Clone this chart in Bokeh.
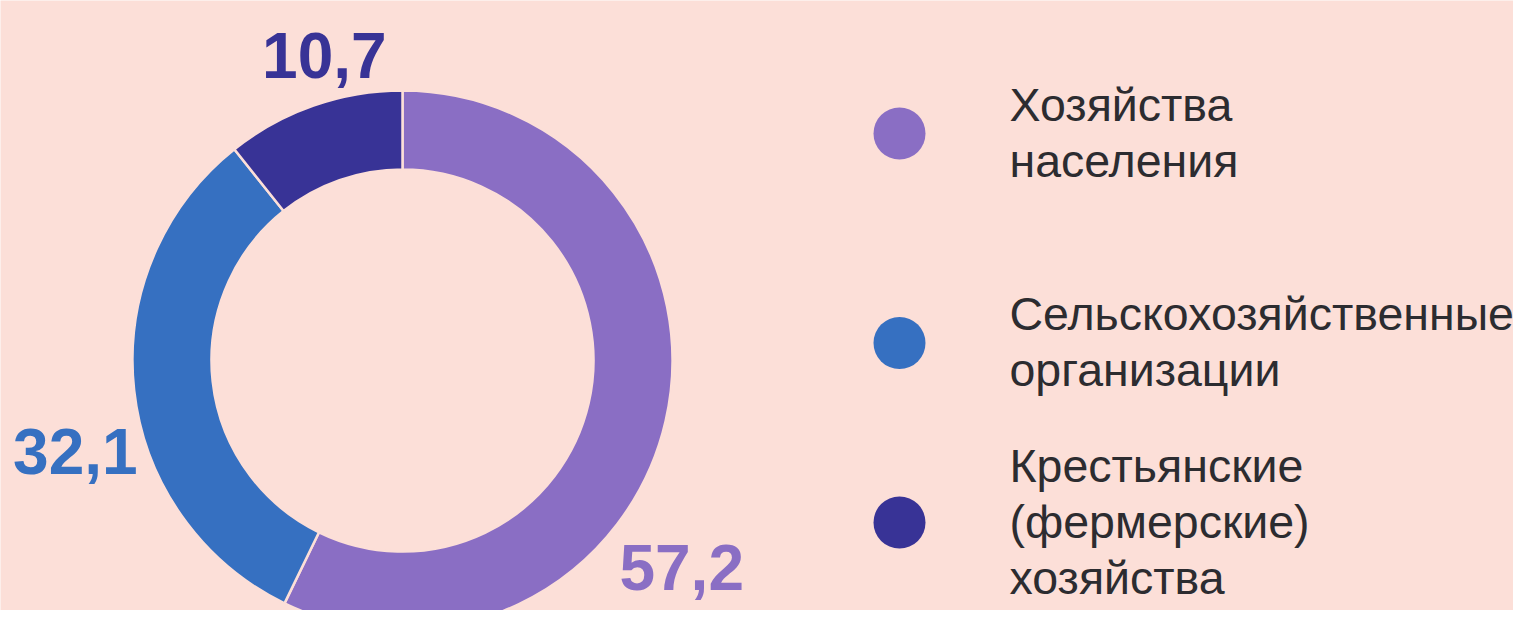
import math
from bokeh.plotting import figure
from bokeh.models import Range1d, ColumnDataSource
from bokeh.core.properties import value
from bokeh.embed import file_html
from bokeh.resources import INLINE

# ---- data ----
categories = ["Хозяйства\nнаселения",
              "Сельскохозяйственные\nорганизации",
              "Крестьянские\n(фермерские)\nхозяйства"]
shares = [57.2, 32.1, 10.7]
share_labels = ["57,2", "32,1", "10,7"]
colors = ["#8A6EC4", "#3670C1", "#383396"]

# ---- layout / style ----
BG = "#FCDFD8"
TEXT = "#2C2C30"
W, H = 1513, 610
TOP = 626          # data y of the picture's top edge

def Y(img_y):
    return TOP - img_y

CX, CY = 402, Y(360)
R_OUT, R_IN = 270, 191
# label placement: (angle clockwise from top in degrees, distance from centre)
label_polar = [(129.7, 362.9), (250.5, 347.0), (344.4, 290.7)]
LABEL_SIZE = 64
LEG_SIZE = 46.5
FIX = 0.39         # baseline correction (fraction of font size)

LEG_X = 899
LEG_YS = [133, 342.5, 522]
LEG_TX = 1009
LINE_H = 56
CAP = 35

p = figure(width=W, height=H, output_backend="svg", toolbar_location=None,
           x_range=Range1d(0, W), y_range=Range1d(Y(H), Y(0)),
           min_border=0, background_fill_color=BG, border_fill_color=BG,
           outline_line_color=None)
p.axis.visible = False
p.grid.visible = False

total = sum(shares)
starts, ends = [], []
cum = 0.0
for s in shares:
    a0 = math.pi / 2 - 2 * math.pi * (cum + s) / total
    a1 = math.pi / 2 - 2 * math.pi * cum / total
    starts.append(a0)
    ends.append(a1)
    cum += s

src = ColumnDataSource(dict(x=[CX] * len(shares), y=[CY] * len(shares),
                            start=starts, end=ends, color=colors))
p.annular_wedge(x="x", y="y", inner_radius=R_IN, outer_radius=R_OUT,
                start_angle="start", end_angle="end", direction="anticlock",
                fill_color="color", line_color=BG, line_width=2.5, source=src)

# value labels
lx, ly = [], []
for ang, dist in label_polar:
    t = math.radians(ang)
    lx.append(CX + dist * math.sin(t))
    ly.append(CY + dist * math.cos(t) + FIX * LABEL_SIZE)
p.text(x=lx, y=ly, text=share_labels, text_color=colors,
       text_font=value("Liberation Sans"), text_font_style="bold",
       text_font_size=f"{LABEL_SIZE}px", text_align="center",
       text_baseline="alphabetic")

# legend
mx, my = [], []
tx, ty, tt = [], [], []
for cat, cy_img in zip(categories, LEG_YS):
    mx.append(LEG_X)
    my.append(Y(cy_img))
    lines = cat.split("\n")
    n = len(lines)
    first = cy_img - (n - 1) * LINE_H / 2 + CAP / 2
    for j, ln in enumerate(lines):
        tx.append(LEG_TX)
        ty.append(Y(first + j * LINE_H) + FIX * LEG_SIZE)
        tt.append(ln)
p.scatter(x=mx, y=my, marker="circle", size=52, fill_color=colors, line_color=None)
p.text(x=tx, y=ty, text=tt, text_color=TEXT, text_font=value("Liberation Sans"),
       text_font_size=f"{LEG_SIZE}px", text_align="left", text_baseline="alphabetic")

open("out.html", "w").write(file_html(p, INLINE))
